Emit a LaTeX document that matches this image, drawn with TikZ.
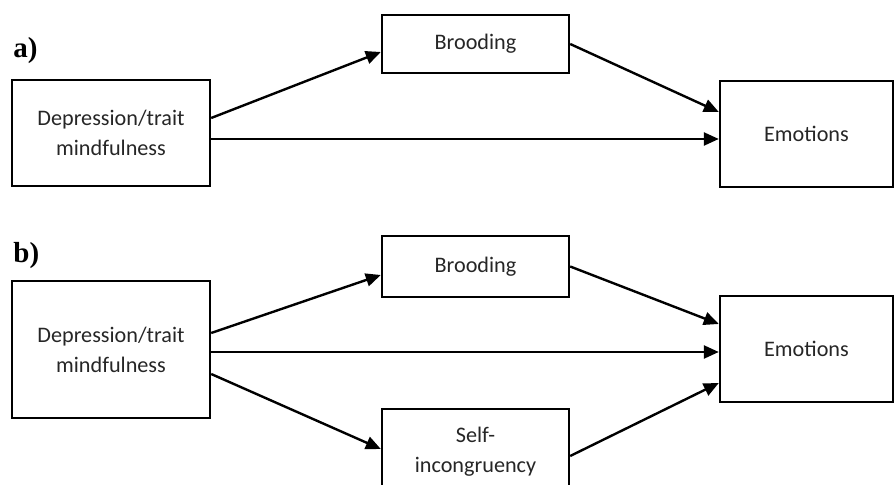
\documentclass[tikz,border=0pt]{standalone}
\usepackage{fontspec}
\setmainfont{Carlito}
\newfontfamily\labelfont{Liberation Serif}
\usetikzlibrary{arrows.meta}

\begin{document}
\begin{tikzpicture}[
    x=0.5pt, y=-0.5pt,
    every node/.style={align=center, inner sep=0pt, text=black!85, font=\fontsize{11.1}{15}\selectfont},
    varbox/.style={draw, line width=1.2pt, minimum width=#1},
    varbox/.default=93.5pt,
    panel/.style={anchor=base west, text=black, font=\labelfont\bfseries\fontsize{14.5}{16}\selectfont},
    path/.style={line width=1.2pt, -{Triangle[length=7.5pt,width=6.5pt]}}
]
\useasboundingbox (0,0) rectangle (895,485);
\clip (0,0) rectangle (895,485);

\node[panel] (laba) at (13,58) {a)};
\node[varbox=99pt, minimum height=53pt] (depa) at (111,133) {Depression/trait\\mindfulness};
\node[varbox, minimum height=29pt] (brooda) at (475.5,44) {Brooding};
\node[varbox=86.5pt, minimum height=53pt] (emoa) at (806.5,134) {Emotions};
\draw[path] ([yshift=7.5pt]depa.east) -- ([yshift=-4pt]brooda.west);
\draw[path] (brooda.east) -- ([yshift=11pt]emoa.west);
\draw[path] ([yshift=-3pt]depa.east) -- ([yshift=-3pt]depa.east -| emoa.west);

\node[panel] (labb) at (13,263) {b)};
\node[varbox=99pt, minimum height=68.5pt] (depb) at (111,349.5) {Depression/trait\\mindfulness};
\node[varbox, minimum height=30.5pt] (broodb) at (475.5,266.5) {Brooding};
\node[varbox=86.5pt, minimum height=53pt] (emob) at (806.5,349) {Emotions};
\node[varbox, minimum height=43pt] (selfb) at (475.5,452) {Self-\\incongruency};
\draw[path] ([yshift=8.25pt]depb.east) -- ([yshift=-4.25pt]broodb.west);
\draw[path] ([yshift=-1.25pt]depb.east) -- ([yshift=-1.25pt]depb.east -| emob.west);
\draw[path] ([yshift=-12.25pt]depb.east) -- ([yshift=1.5pt]selfb.west);
\draw[path] (broodb.east) -- ([yshift=12.5pt]emob.west);
\draw[path] ([yshift=-2pt]selfb.east) -- ([yshift=-17pt]emob.west);
\end{tikzpicture}
\end{document}
